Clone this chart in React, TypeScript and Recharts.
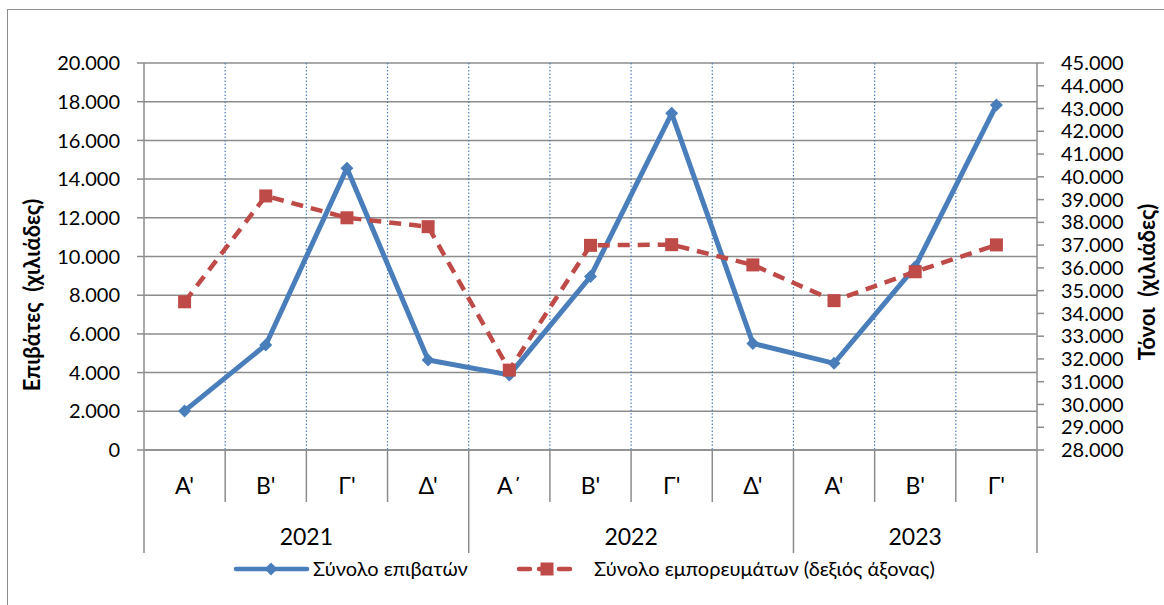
import { LineChart, Line, XAxis, YAxis, CartesianGrid, Customized } from 'recharts';

const quarters = ["Α'", "Β'", "Γ'", "Δ'", "Α΄", "Β'", "Γ'", "Δ'", "Α'", "Β'", "Γ'"];
const years = ['2021', '2021', '2021', '2021', '2022', '2022', '2022', '2022', '2023', '2023', '2023'];
const passengers = [2020, 5430, 14560, 4650, 3880, 8960, 17400, 5510, 4480, 9470, 17830];
const freight = [34510, 39160, 38200, 37810, 31510, 36990, 37020, 36130, 34560, 35830, 37010];
const leftTicks = [0, 2000, 4000, 6000, 8000, 10000, 12000, 14000, 16000, 18000, 20000];
const rightTicks = [28000, 29000, 30000, 31000, 32000, 33000, 34000, 35000, 36000, 37000, 38000, 39000, 40000, 41000, 42000, 43000, 44000, 45000];

const data = quarters.map((q, i) => ({
  key: `${years[i]}-${i}`,
  quarter: q,
  year: years[i],
  passengers: passengers[i],
  freight: freight[i],
}));

const W = 1164;
const H = 605;
const PLOT_LEFT = 144;
const PLOT_RIGHT = 1037;
const PLOT_TOP = 63;
const PLOT_BOTTOM = 450;
const BAND = (PLOT_RIGHT - PLOT_LEFT) / quarters.length;
const FONT = 'Lato, "Open Sans", sans-serif';
const AXIS = '#8c8c8c';
const BLUE = '#4A7EBB';
const RED = '#BE4B48';

const fmt = (v: number) => v.toString().replace(/\B(?=(\d{3})+(?!\d))/g, '.');

const vGrid = quarters.slice(1).map((_, i) => PLOT_LEFT + (i + 1) * BAND);

function QuarterTick(props: any) {
  const { x, payload } = props;
  const i = payload.index;
  const lastOfYear = i === years.length - 1 || years[i + 1] !== years[i];
  const firstOfYear = i === 0 || years[i - 1] !== years[i];
  const count = years.filter((y) => y === years[i]).length;
  const right = x + BAND / 2;
  return (
    <g>
      <text x={x} y={494} textAnchor="middle" fontSize={23} fontFamily={FONT} fill="#000">
        {quarters[i]}
      </text>
      {i === 0 && <line x1={x - BAND / 2} x2={x - BAND / 2} y1={PLOT_BOTTOM} y2={553} stroke={AXIS} strokeWidth={1.5} />}
      <line x1={right} x2={right} y1={PLOT_BOTTOM} y2={lastOfYear ? 553 : 502} stroke={AXIS} strokeWidth={1.5} />
      {firstOfYear && (
        <text x={x + ((count - 1) * BAND) / 2} y={545} textAnchor="middle" fontSize={23} fontFamily={FONT} fill="#000">
          {years[i]}
        </text>
      )}
    </g>
  );
}

function Diamond(props: any) {
  const { cx, cy } = props;
  if (cx == null || cy == null) return null;
  return <polygon points={`${cx},${cy - 6.5} ${cx + 6.5},${cy} ${cx},${cy + 6.5} ${cx - 6.5},${cy}`} fill={BLUE} />;
}

function Square(props: any) {
  const { cx, cy } = props;
  if (cx == null || cy == null) return null;
  return <rect x={cx - 6.5} y={cy - 6.5} width={13} height={13} fill={RED} />;
}

function Decor() {
  return (
    <g>
      <text
        transform="translate(40, 295) rotate(-90)"
        textAnchor="middle"
        fontSize={22}
        fontWeight="bold"
        fontFamily={FONT}
        fill="#000"
        style={{ whiteSpace: 'pre' }}
      >
        Επιβάτες  (χιλιάδες)
      </text>
      <text
        transform="translate(1155, 282) rotate(-90)"
        textAnchor="middle"
        fontSize={22}
        fontWeight="bold"
        fontFamily={FONT}
        fill="#000"
        style={{ whiteSpace: 'pre' }}
      >
        Τόνοι  (χιλιάδες)
      </text>
      {/* legend */}
      <line x1={236} x2={307} y1={569} y2={569} stroke={BLUE} strokeWidth={4.5} strokeLinecap="round" />
      <Diamond cx={271} cy={569} />
      <text x={313} y={576} fontSize={20} fontFamily={FONT} fill="#000">
        Σύνολο επιβατών
      </text>
      <line x1={519} x2={578} y1={569} y2={569} stroke={RED} strokeWidth={4.5} strokeDasharray="11 9" strokeLinecap="round" />
      <Square cx={547} cy={569} />
      <text x={594} y={576} fontSize={20} fontFamily={FONT} fill="#000">
        Σύνολο εμπορευμάτων (δεξιός άξονας)
      </text>
    </g>
  );
}

export default function App() {
  const tickStyle = { fontSize: 20, fontFamily: FONT, fill: '#000' };
  return (
    <div style={{ position: 'absolute', left: 0, top: 0, width: W, height: H, overflow: 'hidden', background: '#fff' }}>
      <div
        style={{
          position: 'absolute',
          left: 7,
          top: 9,
          width: W + 20,
          height: H + 20,
          border: '1.5px solid #8c8c8c',
        }}
      />
      <LineChart
        width={W}
        height={H}
        data={data}
        margin={{ top: PLOT_TOP, right: W - PLOT_RIGHT - 60, bottom: H - PLOT_BOTTOM - 105, left: PLOT_LEFT - 60 }}
        style={{ position: 'absolute', left: 0, top: 0 }}
      >
        <CartesianGrid yAxisId="left" vertical={false} stroke={AXIS} strokeWidth={1.5} />
        <CartesianGrid
          yAxisId="left"
          horizontal={false}
          verticalPoints={vGrid}
          stroke={BLUE}
          strokeWidth={1.2}
          strokeDasharray="1.5 2"
        />
        <XAxis
          dataKey="key"
          scale="band"
          interval={0}
          height={105}
          tickLine={false}
          axisLine={{ stroke: AXIS, strokeWidth: 1.5 }}
          tick={<QuarterTick />}
        />
        <YAxis
          yAxisId="left"
          width={60}
          domain={[0, 20000]}
          ticks={leftTicks}
          interval={0}
          tickFormatter={fmt}
          tick={tickStyle}
          tickSize={7}
          tickMargin={17}
          axisLine={{ stroke: AXIS, strokeWidth: 1.5 }}
          tickLine={{ stroke: AXIS, strokeWidth: 1.5 }}
        />
        <YAxis
          yAxisId="right"
          orientation="right"
          width={60}
          domain={[28000, 45000]}
          ticks={rightTicks}
          interval={0}
          tickFormatter={fmt}
          tick={tickStyle}
          tickSize={7}
          tickMargin={17}
          axisLine={{ stroke: AXIS, strokeWidth: 1.5 }}
          tickLine={{ stroke: AXIS, strokeWidth: 1.5 }}
        />
        <Line
          yAxisId="left"
          dataKey="passengers"
          stroke={BLUE}
          strokeWidth={5}
          dot={<Diamond />}
          activeDot={false}
          isAnimationActive={false}
        />
        <Line
          yAxisId="right"
          dataKey="freight"
          stroke={RED}
          strokeWidth={4.5}
          strokeDasharray="12 8"
          dot={<Square />}
          activeDot={false}
          isAnimationActive={false}
        />
        <Customized component={Decor} />
      </LineChart>
    </div>
  );
}
